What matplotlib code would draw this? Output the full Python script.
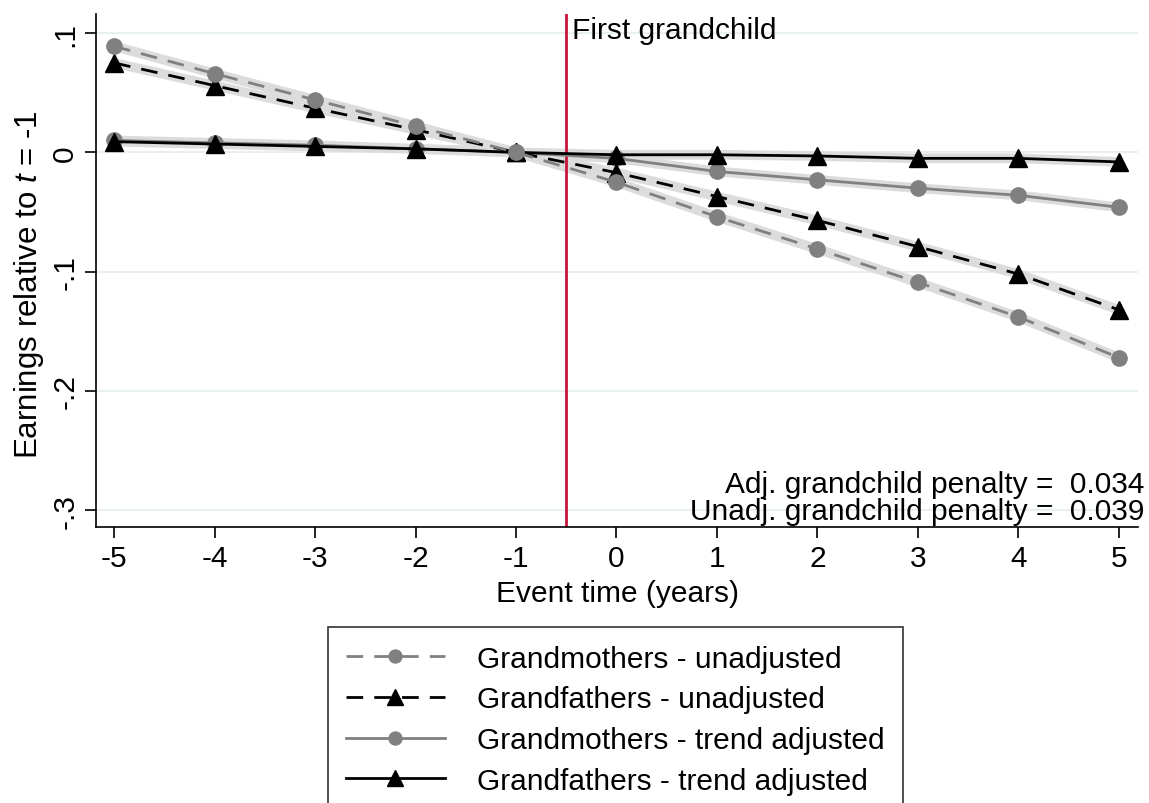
import numpy as np
import matplotlib
matplotlib.use("Agg")
import matplotlib.pyplot as plt

plt.rcParams['font.family'] = ['Liberation Sans', 'DejaVu Sans']
plt.rcParams['mathtext.fontset'] = 'custom'
plt.rcParams['mathtext.it'] = 'Liberation Sans:italic'
plt.rcParams['mathtext.rm'] = 'Liberation Sans'

event_time = [-5, -4, -3, -2, -1, 0, 1, 2, 3, 4, 5]
gm_unadj = [0.089, 0.066, 0.044, 0.022, 0.0, -0.025, -0.054, -0.081, -0.109, -0.138, -0.172]
gf_unadj = [0.075, 0.056, 0.037, 0.019, 0.0, -0.017, -0.037, -0.057, -0.079, -0.102, -0.132]
gm_adj = [0.010, 0.008, 0.006, 0.003, 0.0, -0.005, -0.016, -0.023, -0.030, -0.036, -0.046]
gf_adj = [0.009, 0.007, 0.005, 0.003, 0.0, -0.002, -0.002, -0.003, -0.005, -0.005, -0.008]
yticks = [0.1, 0, -0.1, -0.2, -0.3]
ytick_labels = ['.1', '0', '-.1', '-.2', '-.3']
adj_penalty = 0.034
unadj_penalty = 0.039

grey = '#808080'
band = '#dcdcdc'
fs = 21.5

fig = plt.figure(figsize=(11.49, 8.04), dpi=100)
ax = fig.add_axes([96/1149, 1-528/804, (1138-96)/1149, (528-15)/804])

for y in yticks:
    ax.axhline(y, color='#e8f0f1', lw=1.5, zorder=0)

# light bands (confidence intervals) under each line
for s in [gm_unadj, gf_unadj, gm_adj, gf_adj]:
    ax.plot(event_time, s, color=band, lw=7, zorder=1, solid_capstyle='butt')

ax.axvline(-0.5, color='#c8143c', lw=2, zorder=2)

ax.plot(event_time, gm_adj, color=grey, lw=2, marker='o', ms=11, label='Grandmothers - trend adjusted', zorder=3)
ax.plot(event_time, gf_adj, color='black', lw=2, marker='^', ms=13, label='Grandfathers - trend adjusted', zorder=4)
ax.plot(event_time, gf_unadj, color='black', lw=2, ls=(0, (6, 4)), marker='^', ms=13, label='Grandfathers - unadjusted', zorder=5)
ax.plot(event_time, gm_unadj, color=grey, lw=2, ls=(0, (6, 4)), marker='o', ms=11, label='Grandmothers - unadjusted', zorder=6)

ax.set_xlim(-5.18, 5.19)
ax.set_ylim(-0.314, 0.116)
ax.set_xticks(event_time)
ax.set_xticklabels([str(t) for t in event_time])
ax.set_yticks(yticks)
ax.set_yticklabels(ytick_labels, rotation=90, va='center')
ax.tick_params(labelsize=fs, length=8, width=1.2, direction='out', pad=4)
for sp in ['top', 'right']:
    ax.spines[sp].set_visible(False)
for sp in ['left', 'bottom']:
    ax.spines[sp].set_linewidth(1.2)

ax.set_xlabel('Event time (years)', fontsize=fs, labelpad=5)
ax.set_ylabel(r'Earnings relative to $t$ = -1', fontsize=22.5)
ax.yaxis.set_label_coords(-50/1042, (528-285)/513)

ax.text(-0.44, 0.114, 'First grandchild', fontsize=fs, va='top', ha='left')
ax.text(1.006, 0.084, 'Adj. grandchild penalty =  %.3f' % adj_penalty, transform=ax.transAxes,
        fontsize=fs, ha='right', va='center')
ax.text(1.006, 0.032, 'Unadj. grandchild penalty =  %.3f' % unadj_penalty, transform=ax.transAxes,
        fontsize=fs, ha='right', va='center')

h, l = ax.get_legend_handles_labels()
order = [3, 2, 0, 1]
leg = fig.legend([h[i] for i in order], [l[i] for i in order], loc='upper center',
                 bbox_to_anchor=(615.5/1149, 1-628/804), fontsize=fs, handlelength=3.3,
                 frameon=True, fancybox=False, edgecolor='black', labelspacing=0.42,
                 borderpad=0.6, handletextpad=1.1, markerscale=0.85, borderaxespad=0)
leg.get_frame().set_linewidth(1.2)

fig.savefig('out.png', dpi=100)
